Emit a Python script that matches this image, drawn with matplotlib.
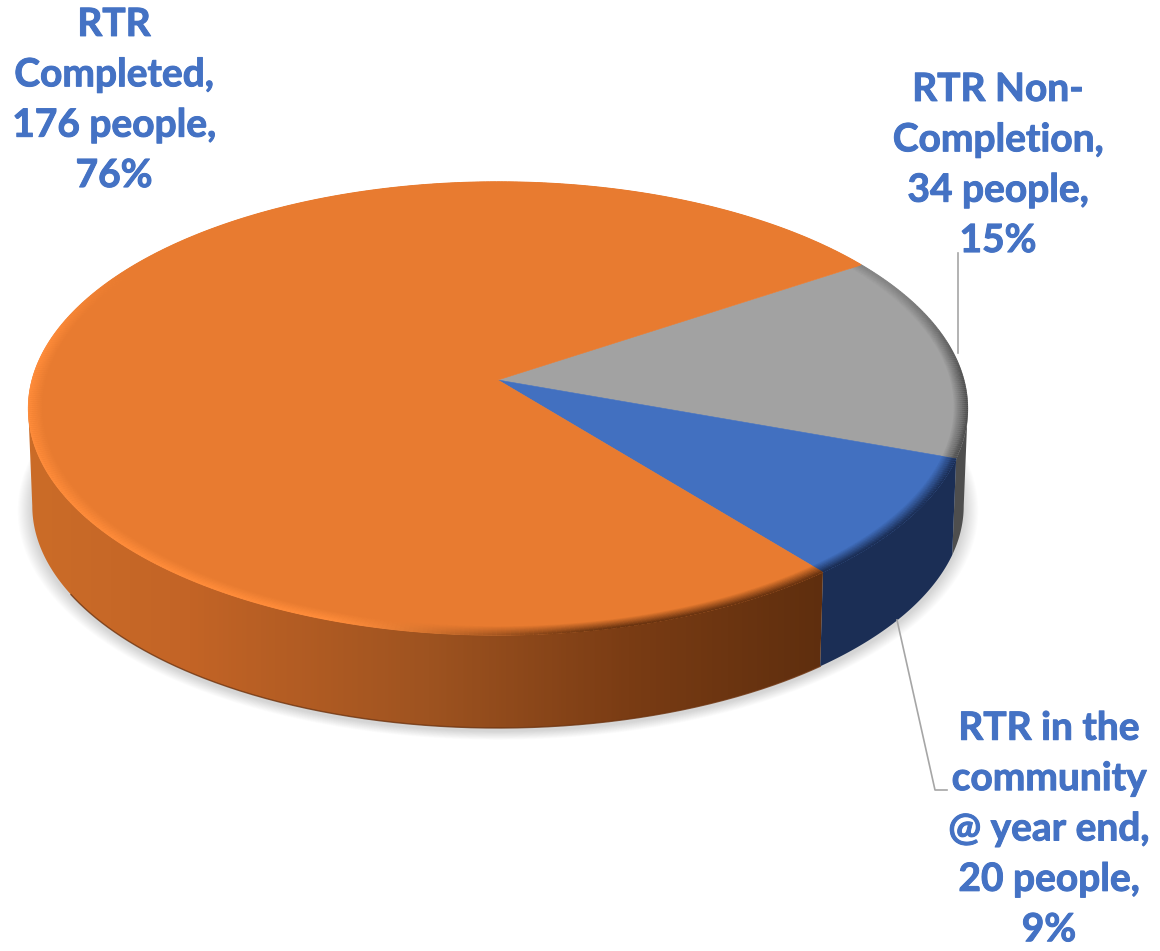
import numpy as np
import matplotlib
matplotlib.use("Agg")
import matplotlib.pyplot as plt
import matplotlib.patheffects as pe
from matplotlib.collections import LineCollection
from matplotlib.colors import LinearSegmentedColormap, to_rgb
from matplotlib.patches import Polygon

categories = ["RTR Non-Completion", "RTR in the community @ year end", "RTR Completed"]
people = [34, 20, 176]
percents = [15, 9, 76]
labels = [
    "RTR Non-\nCompletion,\n34 people,\n15%",
    "RTR in the\ncommunity\n@ year end,\n20 people,\n9%",
    "RTR\nCompleted,\n176 people,\n76%",
]
top_colors = ["#A2A2A2", "#4270C0", "#E87B30"]
side_colors = ["#4E4E4E", "#1B2E55", "#5E2E0E"]
label_pos = [(998, 165), (1049, 829), (114, 100)]
TEXT_COLOR = "#4472C4"
LEADER = "#A6A6A6"

# pie is a tilted disc, flat projection with a little perspective
CX, K = 498, 0.126
TOP = (380, 223, 466)
BOTTOM = (478, 218.5, 462)
START = -33.5
EDGE_T = 7.2


def project(t, r, plane):
    cy, a, b = plane
    s = r * np.sin(np.radians(t))
    c = r * np.cos(np.radians(t))
    w = 1 - K * s
    return CX + b * c / w, cy + a * s / w


def arc(t0, t1, plane, r=1.0):
    t = np.linspace(t0, t1, max(int(abs(t1 - t0) * 3), 2))
    x, y = project(t, r, plane)
    return np.column_stack([x, y])


def smooth(v, lo, hi):
    u = np.clip((v - lo) / (hi - lo), 0, 1)
    return u * u * (3 - 2 * u)


def rim_weight_color(t, i):
    # gray and blue slices go dark at the rim, orange goes dark then bright
    if i < 2:
        return np.array(to_rgb(side_colors[i])), np.ones_like(t) * (0.35 + 0.65 * smooth(t, -30, 5))
    dark = np.array(to_rgb("#6B3410"))
    bright = np.array(to_rgb("#FF8C3A"))
    mix = smooth(t, 75, 110)[:, None]
    col = dark * (1 - mix) + bright * mix
    weight = 1 - smooth(t, 185, 215)
    return col, weight


fig = plt.figure(figsize=(11.6, 9.51), dpi=100)
ax = fig.add_axes([0, 0, 1, 1])
ax.set_xlim(0, 1160)
ax.set_ylim(951, 0)
ax.axis("off")

spans = np.array(people) / sum(people) * 360
edges = START + np.concatenate([[0], np.cumsum(spans)])

# soft shadow under the disc
for grow in range(14, 0, -1):
    x, y = project(np.linspace(0, 360, 400), 1 + grow * 0.0022, (BOTTOM[0] + 3, BOTTOM[1], BOTTOM[2]))
    ax.fill(x, y, color="black", alpha=0.012, lw=0, zorder=1)

# side wall, only the part facing us
for i in range(3):
    t0 = max(edges[i], EDGE_T)
    t1 = min(edges[i + 1], 180 - EDGE_T)
    pts = np.vstack([arc(t0, t1, TOP), arc(t1, t0, BOTTOM)])
    if i < 2:
        ax.add_patch(Polygon(pts, closed=True, fc=side_colors[i], ec="none", zorder=2))
    else:
        patch = Polygon(pts, closed=True, fc="none", ec="none", zorder=2)
        ax.add_patch(patch)
        cmap = LinearSegmentedColormap.from_list(
            "side",
            [(0, "#CB6C28"), (0.2, "#C36426"), (0.5, "#9E5320"), (0.75, "#7A3C14"), (1, "#5E2E0E")],
        )
        im = ax.imshow(np.linspace(0, 1, 300).reshape(1, -1), cmap=cmap, aspect="auto",
                       extent=(28, 830, 740, 400), zorder=2)
        im.set_clip_path(patch)
        bottom_edge = arc(t0, 150, BOTTOM)
        ax.plot(bottom_edge[:, 0], bottom_edge[:, 1], color="#6E3410", lw=1.0, alpha=0.8, zorder=3)

ax.set_xlim(0, 1160)
ax.set_ylim(951, 0)

# top face
for i in range(3):
    pts = np.vstack([[project(0, 0, TOP)], arc(edges[i], edges[i + 1], TOP)])
    ax.add_patch(Polygon(pts, closed=True, fc=top_colors[i], ec=top_colors[i], lw=0.4, zorder=4))

# bevel round the rim of the top face
rings = np.linspace(0.970, 0.999, 12)
for i in range(3):
    t = np.linspace(edges[i], edges[i + 1], max(int(spans[i] * 2), 2))
    mid = (t[:-1] + t[1:]) / 2
    col, weight = rim_weight_color(mid, i)
    face = np.array(to_rgb(top_colors[i]))
    for r in rings:
        x, y = project(t, r, TOP)
        segs = np.stack([np.column_stack([x[:-1], y[:-1]]), np.column_stack([x[1:], y[1:]])], axis=1)
        w = (weight * (r - rings[0]) / (rings[-1] - rings[0]))[:, None]
        ax.add_collection(LineCollection(segs, colors=face * (1 - w) + col * w, linewidths=1.2, zorder=5))

# leader lines
ax.plot([958, 958], [253, 353], color=LEADER, lw=1.2, zorder=6)
ax.plot([897, 935, 947], [620, 790, 790], color=LEADER, lw=1.2, zorder=6)

for text, (x, y) in zip(labels, label_pos):
    ax.text(x, y, text, color=TEXT_COLOR, fontsize=28, fontweight="bold", family="Lato",
            ha="center", va="center", multialignment="center", linespacing=1.53, zorder=7,
            path_effects=[pe.withStroke(linewidth=0.7, foreground=TEXT_COLOR)])

fig.savefig("out.png", dpi=100)
